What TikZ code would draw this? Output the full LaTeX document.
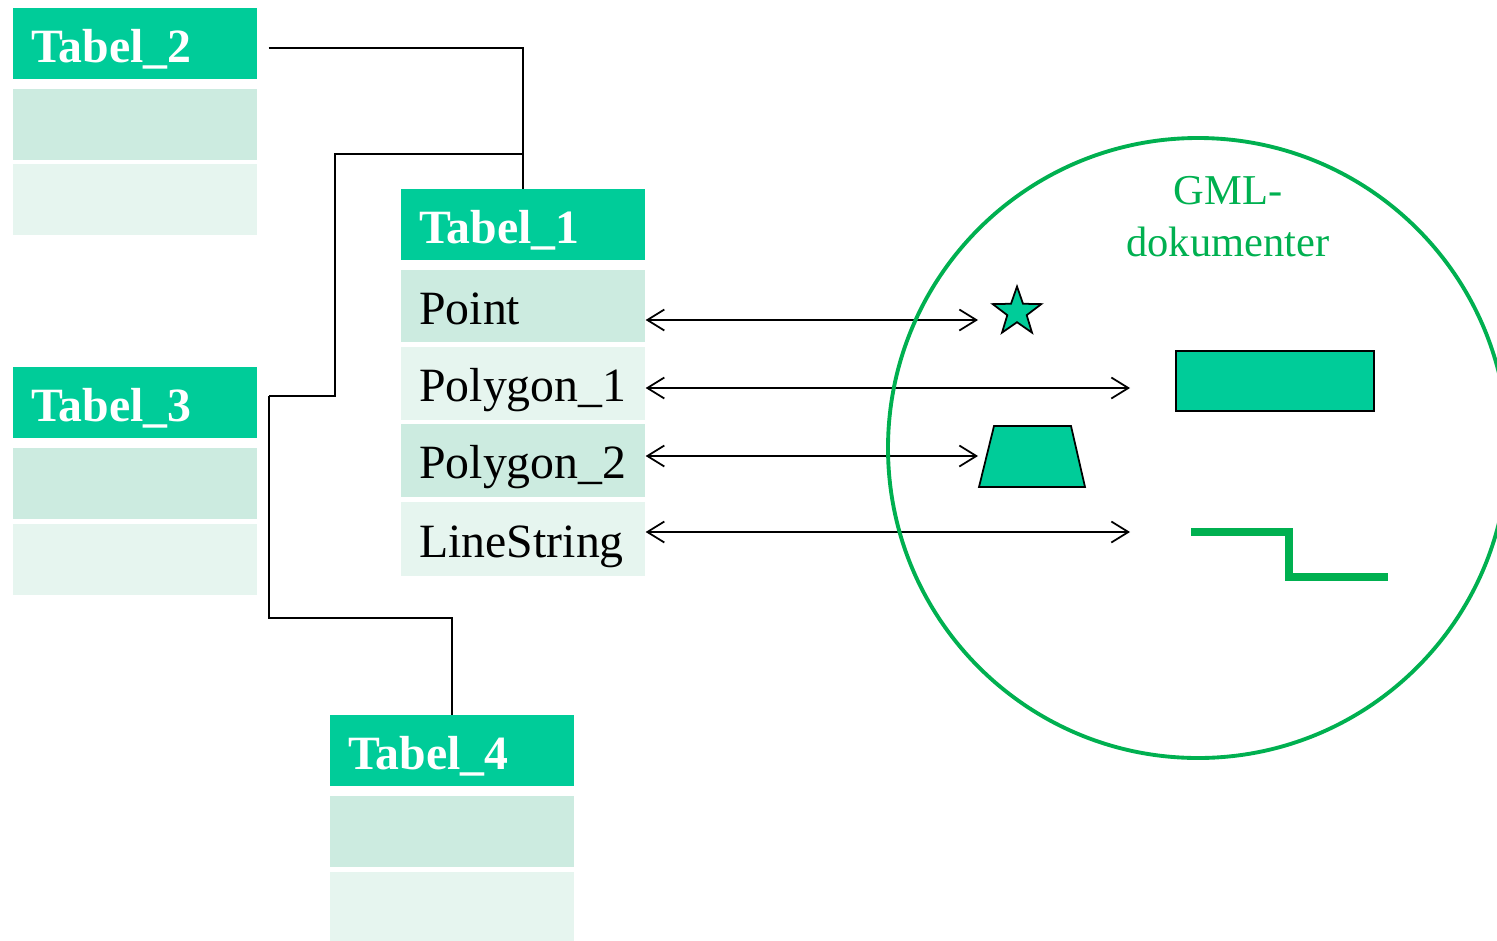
\documentclass[tikz,border=0pt]{standalone}
\usepackage{fontspec}
\setmainfont{Liberation Serif}
\usepackage{tikz}
\usetikzlibrary{arrows.meta,positioning,shapes.geometric,calc}
\definecolor{tabhead}{RGB}{0,204,153}
\definecolor{tabband}{RGB}{204,235,224}
\definecolor{tabbandlight}{RGB}{230,245,239}
\definecolor{gmlgreen}{RGB}{0,176,80}
\tikzset{
    cell/.style={anchor=north west, inner xsep=0.36cm, inner ysep=0pt, text width=4.16cm,
        minimum height=1.42cm, text height=0.72cm, text depth=0pt},
    head cell/.style={cell, fill=tabhead, text=white, text height=0.74cm,
        font=\fontsize{27.2}{32}\selectfont\bfseries},
    band cell/.style={cell, fill=tabband},
    light cell/.style={cell, fill=tabbandlight},
    link/.style={black, line width=1.1pt},
    dblarr/.style={{Straight Barb[length=0.34cm,width=0.42cm]}-{Straight Barb[length=0.34cm,width=0.42cm]}, line width=1pt},
    geom fill/.style={fill=tabhead, draw=black, line width=1pt},
    gml color/.style={gmlgreen},
}
\tikzstyle{every node}=[font=\fontsize{27.2}{32}\selectfont]

\begin{document}
\begin{tikzpicture}[x=0.02cm, y=-0.02cm]
        \useasboundingbox (0,0) rectangle (1497,940);

        % tables
        \node[head cell] (t2) at (13,8) {Tabel\_2};
        \node[band cell, below=0.18cm of t2] (t2-r1) {};
        \node[light cell, below=0.07cm of t2-r1] (t2-r2) {};

        \node[head cell] (t3) at (13,367) {Tabel\_3};
        \node[band cell, below=0.18cm of t3] (t3-r1) {};
        \node[light cell, below=0.08cm of t3-r1] (t3-r2) {};

        \node[head cell] (t1) at (401,189) {Tabel\_1};
        \node[band cell, below=0.18cm of t1, minimum height=1.44cm] (t1-point) {Point};
        \node[light cell, below=0.08cm of t1-point, minimum height=1.46cm] (t1-poly1) {Polygon\_1};
        \node[band cell, below=0.08cm of t1-poly1, minimum height=1.46cm] (t1-poly2) {Polygon\_2};
        \node[light cell, below=0.08cm of t1-poly2, minimum height=1.48cm] (t1-line) {LineString};

        \node[head cell] (t4) at (330,715) {Tabel\_4};
        \node[band cell, below=0.18cm of t4] (t4-r1) {};
        \node[light cell, below=0.08cm of t4-r1] (t4-r2) {};

        % links between the tables
        \coordinate (t2-out) at ([xshift=0.22cm, yshift=-0.09cm]t2.east);
        \coordinate (t3-out) at ([xshift=0.22cm, yshift=0.13cm]t3.east);
        \coordinate (split) at ([yshift=0.7cm]t1.north);
        \draw[link] (t2-out) -| (t1.north);
        \draw[link] (split) -- ++(-188,0) |- (t3-out);
        \draw[link] (t3-out) -- ++(0,222) -| (t4.north);

        % geometries
        \coordinate (pt-end) at (978,320);
        \coordinate (p1-end) at (1130,388);
        \coordinate (p2-end) at (978,456);
        \coordinate (ls-end) at (1130,532);
        \foreach \row/\tip in {t1-point/pt-end, t1-poly1/p1-end, t1-poly2/p2-end, t1-line/ls-end}
            \draw[dblarr] (\row.east |- \tip) -- (\tip);

        \node[star, star points=5, star point ratio=2.5, minimum size=1.02cm, inner sep=0pt, geom fill]
            (pt-shape) at (1017,312) {};
        \node[geom fill, anchor=north west, minimum width=3.96cm, minimum height=1.2cm, inner sep=0pt]
            (p1-shape) at (1175,350) {};
        \draw[geom fill] (979,487) -- (994,426) -- (1071,426) -- (1085,487) -- cycle;
        \draw[gml color, line width=4.2pt] (1191,532) -- (1289,532) -- (1289,577) -- (1388,577);

        \draw[gml color, line width=2.2pt] (1198,448) circle[radius=310];
        \node[gml color, align=center, anchor=north, inner sep=0pt, font=\fontsize{24.2}{29.5}\selectfont]
            (gml) at (1228,176) {GML-\\dokumenter};
    \end{tikzpicture}
\end{document}
